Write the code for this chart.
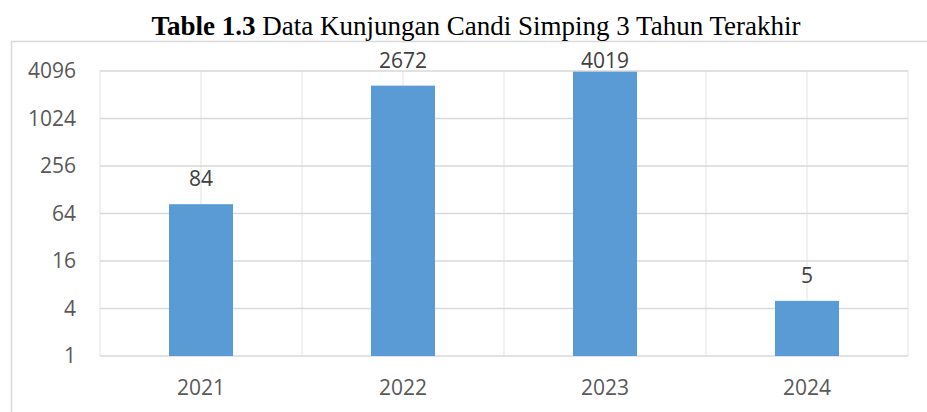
<!DOCTYPE html>
<html lang="en">
  <head>
    <meta charset="UTF-8" />
    <title>Data Kunjungan Candi Simping</title>
    <script src="https://d3js.org/d3.v7.min.js"></script>
    <style>
      body { margin: 0; background: #fff; }
      svg { display: block; }
    </style>
  </head>
  <body>
    <script>
      const years = ["2021", "2022", "2023", "2024"];
      const visits = [84, 2672, 4019, 5];
      const yTicks = [1, 4, 16, 64, 256, 1024, 4096];

      const width = 927;
      const height = 412;
      const plot = { left: 100, right: 908, top: 71, bottom: 356 };

      const svg = d3
        .select("body")
        .append("svg")
        .attr("width", width)
        .attr("height", height);

      // chart frame (runs off the right/bottom edge like the screenshot)
      svg
        .append("rect")
        .attr("x", 11.5)
        .attr("y", 41.5)
        .attr("width", 940)
        .attr("height", 400)
        .attr("fill", "none")
        .attr("stroke", "#d9d9d9")
        .attr("stroke-width", 1.5);

      // title
      const title = svg
        .append("text")
        .attr("x", 476)
        .attr("y", 35)
        .attr("text-anchor", "middle")
        .style("font-family", "'Liberation Serif', 'Times New Roman', serif")
        .style("font-size", "27px")
        .attr("fill", "#000");
      title.append("tspan").style("font-weight", "bold").text("Table 1.3");
      title.append("tspan").text(" Data Kunjungan Candi Simping 3 Tahun Terakhir");

      const x = d3
        .scaleBand()
        .domain(years)
        .range([plot.left, plot.right])
        .paddingInner(0.683)
        .paddingOuter(0.683 / 2);

      const y = d3
        .scaleLog()
        .base(2)
        .domain([1, 4096])
        .range([plot.bottom, plot.top]);

      const step = x.step();
      const center = (d) => x(d) + x.bandwidth() / 2;

      // vertical gridlines: category edges and centres
      const vLines = [];
      years.forEach((d) => {
        vLines.push(center(d) - step / 2);
        vLines.push(center(d));
      });
      vLines.push(plot.right);
      svg
        .append("g")
        .selectAll("line")
        .data(vLines)
        .join("line")
        .attr("x1", (d) => d)
        .attr("x2", (d) => d)
        .attr("y1", plot.top)
        .attr("y2", plot.bottom)
        .attr("stroke", "#ececec")
        .attr("stroke-width", 1.5);

      // horizontal gridlines
      svg
        .append("g")
        .selectAll("line")
        .data(yTicks)
        .join("line")
        .attr("x1", plot.left)
        .attr("x2", plot.right)
        .attr("y1", (d) => y(d))
        .attr("y2", (d) => y(d))
        .attr("stroke", "#d9d9d9")
        .attr("stroke-width", 1.5);

      const font = "'Open Sans', 'Noto Sans', sans-serif";

      // y axis labels
      svg
        .append("g")
        .selectAll("text")
        .data(yTicks)
        .join("text")
        .attr("x", 76)
        .attr("y", (d) => y(d))
        .attr("dy", "0.35em")
        .attr("text-anchor", "end")
        .style("font-family", font)
        .style("font-size", "21px")
        .attr("fill", "#595959")
        .text((d) => d);

      // x axis labels
      svg
        .append("g")
        .selectAll("text")
        .data(years)
        .join("text")
        .attr("x", (d) => center(d))
        .attr("y", 388)
        .attr("dy", "0.35em")
        .attr("text-anchor", "middle")
        .style("font-family", font)
        .style("font-size", "21px")
        .attr("fill", "#595959")
        .text((d) => d);

      // bars
      svg
        .append("g")
        .selectAll("rect")
        .data(visits)
        .join("rect")
        .attr("x", (d, i) => x(years[i]))
        .attr("y", (d) => y(d))
        .attr("width", x.bandwidth())
        .attr("height", (d) => plot.bottom - y(d))
        .attr("fill", "#5b9bd5");

      // data labels
      svg
        .append("g")
        .selectAll("text")
        .data(visits)
        .join("text")
        .attr("x", (d, i) => center(years[i]))
        .attr("y", (d) => Math.max(y(d) - 18, 68))
        .attr("text-anchor", "middle")
        .style("font-family", font)
        .style("font-size", "21px")
        .attr("fill", "#404040")
        .text((d) => d);
    </script>
  </body>
</html>
